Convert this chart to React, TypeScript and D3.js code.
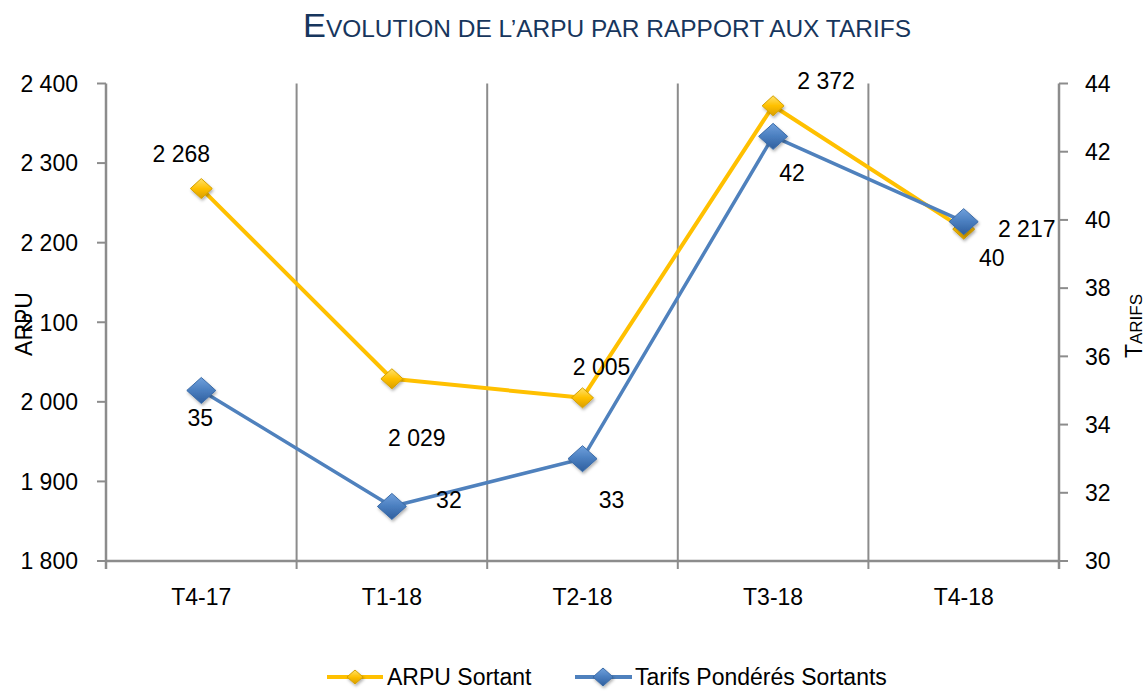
import React from "react";
import * as d3 from "d3";

const categories = ["T4-17", "T1-18", "T2-18", "T3-18", "T4-18"];
const arpuValues = [2268, 2029, 2005, 2372, 2217];
const tarifValues = [35.0, 31.6, 33.0, 42.45, 39.95];
const leftTicks = [1800, 1900, 2000, 2100, 2200, 2300, 2400];
const rightTicks = [30, 32, 34, 36, 38, 40, 42, 44];
const seriesNames = ["ARPU Sortant", "Tarifs Pondérés Sortants"];

// label offsets relative to markers (layout, not data)
const arpuLabelOffsets: [number, number][] = [[-20, -35], [25, 59], [19, -31], [53, -25], [63, 0]];
const tarifLabelOffsets: [number, number][] = [[-1, 27], [57, -7], [29, 41], [19, 36], [28, 36]];

const W = 1148, H = 691;
const X0 = 106, X1 = 1059, YT = 83.5, YB = 561;
const FONT = "'Liberation Sans', Arial, sans-serif";
const FS = 23;
const BL = 8.3;
const GRID = "#8c8c8c";
const YELLOW = "#FFC000";
const BLUE = "#4F81BD";

const locale = d3.formatLocale({ decimal: ",", thousands: " ", grouping: [3], currency: ["", "€"] });
const fmtThousands = locale.format(",d");
const fmtInt = d3.format(".0f");

function Diamond({ x, y, rx, ry, fill, stroke }: any) {
  const p = `M${x},${y - ry}L${x + rx},${y}L${x},${y + ry}L${x - rx},${y}Z`;
  return <path d={p} fill={fill} stroke={stroke} strokeWidth={1} filter="url(#shadow)" />;
}

export default function App() {
  const band = d3.scaleBand<string>().domain(categories).range([X0, X1]).padding(0);
  const cx = (c: string) => (band(c) as number) + band.bandwidth() / 2;
  const yL = d3.scaleLinear().domain([1800, 2400]).range([YB, YT]);
  const yR = d3.scaleLinear().domain([30, 44]).range([YB, YT]);

  const lineL = d3.line<number>().x((_, i) => cx(categories[i])).y((d) => yL(d));
  const lineR = d3.line<number>().x((_, i) => cx(categories[i])).y((d) => yR(d));

  const boundaries = categories.slice(1).map((c) => band(c) as number);
  const allBoundaries = [X0, ...boundaries, X1];

  return (
    <svg width={W} height={H} style={{ position: "absolute", left: 0, top: 0, background: "#fff" }} fontFamily={FONT}>
      <defs>
        <linearGradient id="gy" x1="0" y1="0" x2="0" y2="1">
          <stop offset="0" stopColor="#FFE26A" />
          <stop offset="0.5" stopColor="#FFC000" />
          <stop offset="1" stopColor="#D99E00" />
        </linearGradient>
        <linearGradient id="gb" x1="0" y1="0" x2="0" y2="1">
          <stop offset="0" stopColor="#6FA0DC" />
          <stop offset="0.5" stopColor="#4A7EBF" />
          <stop offset="1" stopColor="#2F5F9E" />
        </linearGradient>
        <filter id="shadow" x="-50%" y="-50%" width="200%" height="200%">
          <feDropShadow dx="1" dy="2" stdDeviation="1.5" floodColor="#000" floodOpacity="0.3" />
        </filter>
      </defs>

      {/* Title */}
      <text x={303} y={37} fill="#17365D" textLength={608} lengthAdjust="spacingAndGlyphs">
        <tspan fontSize={33}>E</tspan>
        <tspan fontSize={23.5}>VOLUTION DE L’ARPU PAR RAPPORT AUX TARIFS</tspan>
      </text>

      {/* vertical gridlines */}
      {boundaries.map((b, i) => (
        <line key={i} x1={b} x2={b} y1={YT} y2={YB} stroke={GRID} strokeWidth={2} />
      ))}

      {/* axes */}
      <line x1={X0} x2={X0} y1={YT} y2={YB + 8} stroke={GRID} strokeWidth={2.5} />
      <line x1={X1} x2={X1} y1={YT} y2={YB + 8} stroke={GRID} strokeWidth={2.5} />
      <line x1={X0} x2={X1} y1={YB} y2={YB} stroke={GRID} strokeWidth={2.5} />
      {allBoundaries.map((b, i) => (
        <line key={i} x1={b} x2={b} y1={YB} y2={YB + 8} stroke={GRID} strokeWidth={2} />
      ))}
      {leftTicks.map((t) => (
        <g key={t}>
          <line x1={X0 - 9} x2={X0} y1={yL(t)} y2={yL(t)} stroke={GRID} strokeWidth={2} />
          <text x={78} y={yL(t) + BL} fontSize={FS} textAnchor="end" fill="#000">{fmtThousands(t)}</text>
        </g>
      ))}
      {rightTicks.map((t) => (
        <g key={t}>
          <line x1={X1} x2={X1 + 9} y1={yR(t)} y2={yR(t)} stroke={GRID} strokeWidth={2} />
          <text x={1085} y={yR(t) + BL} fontSize={FS} textAnchor="start" fill="#000">{t}</text>
        </g>
      ))}
      {categories.map((c) => (
        <text key={c} x={cx(c)} y={605} fontSize={FS} textAnchor="middle" fill="#000">{c}</text>
      ))}

      {/* axis titles */}
      <text transform="translate(32,324) rotate(-90)" fontSize={FS} textAnchor="middle" fill="#000">ARPU</text>
      <text transform="translate(1142,326) rotate(-90)" textAnchor="middle" fill="#000">
        <tspan fontSize={23}>T</tspan>
        <tspan fontSize={17}>ARIFS</tspan>
      </text>

      {/* lines */}
      <path d={lineL(arpuValues) as string} fill="none" stroke={YELLOW} strokeWidth={4} strokeLinejoin="round" />
      <path d={lineR(tarifValues) as string} fill="none" stroke={BLUE} strokeWidth={3.5} strokeLinejoin="round" />

      {/* markers */}
      {arpuValues.map((v, i) => (
        <Diamond key={"a" + i} x={cx(categories[i])} y={yL(v)} rx={11} ry={10} fill="url(#gy)" stroke="#D4A000" />
      ))}
      {tarifValues.map((v, i) => (
        <Diamond key={"t" + i} x={cx(categories[i])} y={yR(v)} rx={14.5} ry={13} fill="url(#gb)" stroke="#3A6BA8" />
      ))}

      {/* data labels */}
      {arpuValues.map((v, i) => (
        <text key={"la" + i} x={cx(categories[i]) + arpuLabelOffsets[i][0]} y={yL(v) + arpuLabelOffsets[i][1] + BL}
          fontSize={FS} textAnchor="middle" fill="#000">{fmtThousands(v)}</text>
      ))}
      {tarifValues.map((v, i) => (
        <text key={"lt" + i} x={cx(categories[i]) + tarifLabelOffsets[i][0]} y={yR(v) + tarifLabelOffsets[i][1] + BL}
          fontSize={FS} textAnchor="middle" fill="#000">{fmtInt(v)}</text>
      ))}

      {/* legend */}
      <line x1={327} x2={383} y1={677} y2={677} stroke={YELLOW} strokeWidth={4} />
      <Diamond x={355} y={677} rx={8} ry={7} fill="url(#gy)" stroke="#D4A000" />
      <text x={387} y={677 + BL} fontSize={FS} fill="#000">{seriesNames[0]}</text>
      <line x1={575} x2={632} y1={677} y2={677} stroke={BLUE} strokeWidth={4} />
      <Diamond x={603} y={677} rx={10} ry={9} fill="url(#gb)" stroke="#3A6BA8" />
      <text x={635} y={677 + BL} fontSize={FS} fill="#000">{seriesNames[1]}</text>
    </svg>
  );
}
